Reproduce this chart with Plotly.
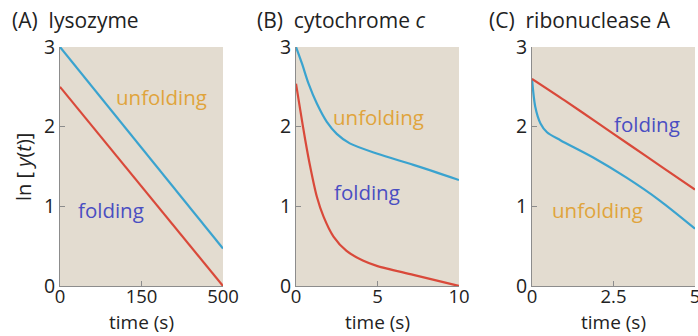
import plotly.graph_objects as go

# ---- data ----
# (A) lysozyme, time in s
lys_t = [0, 500]
lys_unfold = [3.0, 0.47]
lys_fold = [2.5, 0.0]

# (B) cytochrome c, time in s
cyt_t_unfold = [0, 0.37, 0.77, 1.28, 1.89, 2.5, 3.3, 5.0, 7.2, 10.0]
cyt_unfold = [3.0, 2.79, 2.54, 2.29, 2.06, 1.91, 1.79, 1.66, 1.52, 1.33]
cyt_t_fold = [0, 0.26, 0.57, 0.87, 1.28, 1.69, 2.3, 3.1, 4.1, 5.0, 7.2, 10.0]
cyt_fold = [2.54, 2.21, 1.83, 1.50, 1.12, 0.87, 0.62, 0.44, 0.32, 0.25, 0.14, 0.0]

# (C) ribonuclease A, time in s
rib_t_fold = [0, 1, 2, 3, 4, 5]
rib_fold = [2.60, 2.33, 2.05, 1.77, 1.49, 1.21]
rib_t_unfold = [0, 0.1, 0.26, 0.46, 0.87, 1.89, 2.9, 3.93, 5.0]
rib_unfold = [2.60, 2.25, 2.04, 1.93, 1.83, 1.61, 1.36, 1.07, 0.72]

titles = ["(A)  lysozyme", "(B)  cytochrome <i>c</i>", "(C)  ribonuclease A"]
x_ranges = [[0, 500], [0, 10], [0, 5]]
x_tickvals = [[0, 250, 500], [0, 5, 10], [0, 2.5, 5]]
x_ticktext = [["0", "150", "500"], ["0", "5", "10"], ["0", "2.5", "5"]]
y_ticks = [0, 1, 2, 3]

# label positions (data coords) per panel: (x, y)
unfold_label = [(310, 2.37), (5.05, 2.12), (2.0, 0.96)]
fold_label = [(156, 0.95), (4.35, 1.18), (3.52, 2.03)]

# ---- style ----
W, H = 698, 336
FONT = "Open Sans"
BLUE = "#3aa3cf"
RED = "#d9493a"
ORANGE = "#e0a43c"
INDIGO = "#4a4ec2"
BG = "#e3dcd0"
AXIS = "#8c8c8c"
INK = "#222222"

px_left = [60, 296, 532]
px_right = [223, 459, 695]
title_left = [10, 255, 487]
y_dom = [1 - 286 / H, 1 - 47 / H]

fig = go.Figure()

series = [
    [(lys_t, lys_unfold, BLUE), (lys_t, lys_fold, RED)],
    [(cyt_t_unfold, cyt_unfold, BLUE), (cyt_t_fold, cyt_fold, RED)],
    [(rib_t_unfold, rib_unfold, BLUE), (rib_t_fold, rib_fold, RED)],
]

for i, panel in enumerate(series):
    sx = "x" if i == 0 else f"x{i+1}"
    sy = "y" if i == 0 else f"y{i+1}"
    for xs, ys, col in panel:
        fig.add_trace(go.Scatter(
            x=xs, y=ys, mode="lines", xaxis=sx, yaxis=sy,
            line=dict(color=col, width=2.2, shape="spline", smoothing=0.8),
            showlegend=False, hoverinfo="skip",
        ))

layout = dict(
    width=W, height=H,
    margin=dict(l=0, r=0, t=0, b=0),
    paper_bgcolor="white",
    plot_bgcolor=BG,
    font=dict(family=FONT, size=20, color=INK),
    annotations=[],
)

for i in range(3):
    ax = "xaxis" if i == 0 else f"xaxis{i+1}"
    ay = "yaxis" if i == 0 else f"yaxis{i+1}"
    anchor_y = "y" if i == 0 else f"y{i+1}"
    anchor_x = "x" if i == 0 else f"x{i+1}"
    layout[ax] = dict(
        domain=[px_left[i] / W, px_right[i] / W],
        anchor=anchor_y,
        range=x_ranges[i],
        tickvals=x_tickvals[i], ticktext=x_ticktext[i],
        ticks="inside", ticklen=5, tickcolor=AXIS, tickwidth=1,
        showline=True, linecolor=AXIS, linewidth=1,
        showgrid=False, zeroline=False,
        tickfont=dict(size=18.5, color=INK),
        ticklabelstandoff=-6,
        ticklabeloverflow="allow",
        automargin=False,
        fixedrange=True,
    )
    layout[ay] = dict(
        domain=y_dom,
        anchor=anchor_x,
        range=[0, 3],
        tickvals=y_ticks,
        ticks="inside", ticklen=5, tickcolor=AXIS, tickwidth=1,
        showline=True, linecolor=AXIS, linewidth=1,
        showgrid=False, zeroline=False,
        tickfont=dict(size=19.5, color=INK),
        automargin=False,
        fixedrange=True,
    )
    # panel title
    layout["annotations"].append(dict(
        text=titles[i], xref="paper", yref="paper",
        x=title_left[i] / W, y=1 - 20 / H,
        xanchor="left", yanchor="middle", showarrow=False,
        font=dict(size=21, color=INK),
    ))
    # x-axis title
    layout["annotations"].append(dict(
        text="time (s)", xref="paper", yref="paper",
        x=(px_left[i] + px_right[i]) / 2 / W, y=0,
        xanchor="center", yanchor="bottom", showarrow=False,
        font=dict(size=19, color=INK), borderpad=0,
    ))
    # curve labels
    ux, uy = unfold_label[i]
    fx, fy = fold_label[i]
    layout["annotations"].append(dict(
        text="unfolding", xref=anchor_x, yref=anchor_y, x=ux, y=uy,
        showarrow=False, font=dict(size=20.5, color=ORANGE),
    ))
    layout["annotations"].append(dict(
        text="folding", xref=anchor_x, yref=anchor_y, x=fx, y=fy,
        showarrow=False, font=dict(size=20.5, color=INDIGO),
    ))

# shared y-axis label
layout["annotations"].append(dict(
    text="ln [ <i>y</i>(<i>t</i>)]", xref="paper", yref="paper",
    x=23 / W, y=1 - 167 / H, textangle=-90,
    xanchor="center", yanchor="middle", showarrow=False,
    font=dict(size=20, color=INK),
))

fig.update_layout(**layout)
fig.write_html("out.html")
